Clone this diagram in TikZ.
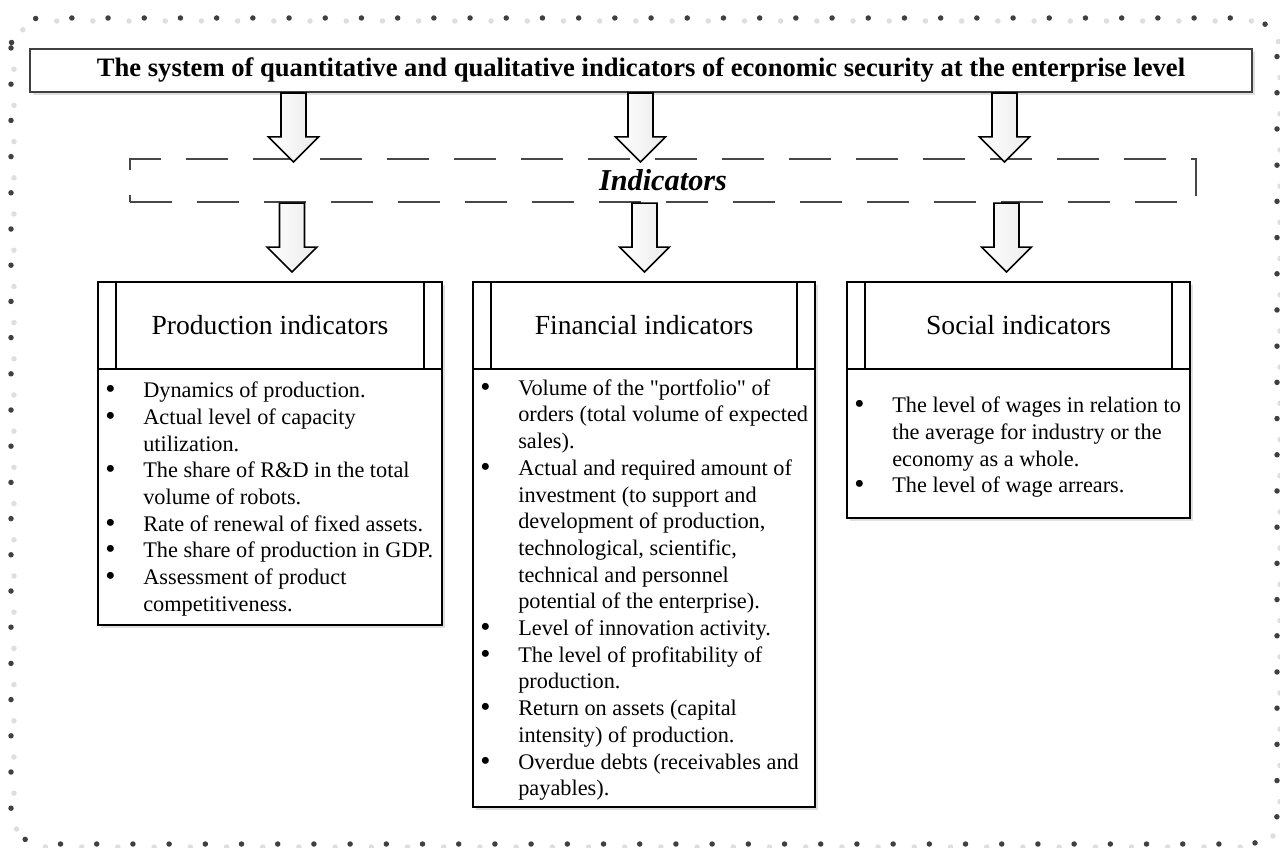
\documentclass[tikz,border=0pt]{standalone}
\usepackage{fontspec}
\setmainfont{Liberation Serif}
\usetikzlibrary{calc,shadows}

\newcommand{\bul}{\makebox[38pt][l]{\raisebox{-1pt}{\fontsize{29}{26.7}\selectfont\textbullet}}}
\newcommand{\cont}{\hspace*{38pt}}

\tikzset{
  framedots/.style={line width=5.5pt, line cap=round, dash pattern=on 0pt off 36.2pt, rounded corners=30pt},
  boxshadow/.style={drop shadow={shadow xshift=3pt, shadow yshift=-3pt, fill=black!25}},
  titlebox/.style={draw=black!75, line width=2pt, fill=white, inner sep=0pt, boxshadow,
    font=\fontsize{26.6}{30}\selectfont\bfseries},
  indbox/.style={draw=black!72, line width=2.2pt, dash pattern=on 42pt off 25pt, inner sep=0pt,
    font=\fontsize{30.3}{34}\selectfont\bfseries\itshape},
  headbox/.style={draw=black, line width=1.8pt, fill=white, inner sep=0pt, boxshadow,
    font=\fontsize{27.6}{32}\selectfont},
  listbox/.style={draw=black, line width=1.8pt, fill=white, inner sep=0pt, boxshadow},
  listtext/.style={inner sep=0pt, align=left, font=\fontsize{22.3}{26.7}\selectfont},
  blockarr/.style={draw=black, line width=1.6pt, left color=white, right color=black!8,
    to path={let \p1=(\tikztostart), \p2=(\tikztotarget) in
      (\x1-12.5pt,\y1) -- (\x1+12.5pt,\y1) -- (\x1+12.5pt,\y2+25pt) -- (\x1+25pt,\y2+25pt)
      -- (\x1,\y2) -- (\x1-25pt,\y2+25pt) -- (\x1-12.5pt,\y2+25pt) -- cycle}}
}

\begin{document}
\begin{tikzpicture}[x=1pt, y=-1pt]
    \useasboundingbox (0, 0) rectangle (1280, 848);

    % dotted frame round the whole scheme
    \draw[framedots, black!13, dash phase=18pt] (14, 21) rectangle (1280, 847);
    \draw[framedots, black!75] (11, 18) rectangle (1277, 844);

    \node[titlebox, minimum width=1222pt, minimum height=43pt] (title) at (641, 70.5)
        {The system of quantitative and qualitative indicators of economic security at the enterprise level};

    \node[indbox, minimum width=1066pt, minimum height=43pt] (ind) at (663, 180.5) {Indicators};

    \node[headbox, minimum width=344pt, minimum height=87pt] (prodhead) at (270, 325.5) {Production indicators};
    \node[headbox, minimum width=342pt, minimum height=87pt] (finhead) at (644, 325.5) {Financial indicators};
    \node[headbox, minimum width=343pt, minimum height=87pt] (sochead) at (1018.5, 325.5) {Social indicators};

    \draw[line width=1.8pt] ([xshift=19pt]prodhead.north west) -- ([xshift=19pt]prodhead.south west);
    \draw[line width=1.8pt] ([xshift=-19pt]prodhead.north east) -- ([xshift=-19pt]prodhead.south east);
    \draw[line width=1.8pt] ([xshift=19pt]finhead.north west) -- ([xshift=19pt]finhead.south west);
    \draw[line width=1.8pt] ([xshift=-19pt]finhead.north east) -- ([xshift=-19pt]finhead.south east);
    \draw[line width=1.8pt] ([xshift=19pt]sochead.north west) -- ([xshift=19pt]sochead.south west);
    \draw[line width=1.8pt] ([xshift=-19pt]sochead.north east) -- ([xshift=-19pt]sochead.south east);

    \node[listbox, minimum width=344pt, minimum height=256pt] (prodlist) at (270, 497) {};
    \node[listbox, minimum width=342pt, minimum height=438pt] (finlist) at (644, 588) {};
    \node[listbox, minimum width=343pt, minimum height=149pt] (soclist) at (1018.5, 443.5) {};

    \node[listtext, anchor=west] (prodtext) at ([xshift=8pt, yshift=-2pt]prodlist.west) {%
        \bul Dynamics of production.\\
        \bul Actual level of capacity\\
        \cont utilization.\\
        \bul The share of R\&D in the total\\
        \cont volume of robots.\\
        \bul Rate of renewal of fixed assets.\\
        \bul The share of production in GDP.\\
        \bul Assessment of product\\
        \cont competitiveness.};

    \node[listtext, anchor=west] (fintext) at ([xshift=8pt, yshift=-2pt]finlist.west) {%
        \bul Volume of the \textquotedbl portfolio\textquotedbl{} of\\
        \cont orders (total volume of expected\\
        \cont sales).\\
        \bul Actual and required amount of\\
        \cont investment (to support and\\
        \cont development of production,\\
        \cont technological, scientific,\\
        \cont technical and personnel\\
        \cont potential of the enterprise).\\
        \bul Level of innovation activity.\\
        \bul The level of profitability of\\
        \cont production.\\
        \bul Return on assets (capital\\
        \cont intensity) of production.\\
        \bul Overdue debts (receivables and\\
        \cont payables).};

    \node[listtext, anchor=west] (soctext) at ([xshift=8pt, yshift=-4pt]soclist.west) {%
        \bul The level of wages in relation to\\
        \cont the average for industry or the\\
        \cont economy as a whole.\\
        \bul The level of wage arrears.};

    % block arrows
    \coordinate (a1) at (293.5, 0);
    \coordinate (a2) at (640.5, 0);
    \coordinate (a3) at (1004.5, 0);
    \coordinate (b1) at (292, 0);
    \coordinate (b2) at (644.5, 0);
    \coordinate (b3) at (1006.5, 0);

    \draw[blockarr] (title.south -| a1) to ([yshift=-4pt]ind.north -| a1);
    \draw[blockarr] (title.south -| a2) to ([yshift=-4pt]ind.north -| a2);
    \draw[blockarr] (title.south -| a3) to ([yshift=-4pt]ind.north -| a3);

    \draw[blockarr] (ind.south -| b1) to ([yshift=9pt]prodhead.north -| b1);
    \draw[blockarr] (ind.south -| b2) to ([yshift=9pt]finhead.north -| b2);
    \draw[blockarr] (ind.south -| b3) to ([yshift=9pt]sochead.north -| b3);
\end{tikzpicture}
\end{document}
